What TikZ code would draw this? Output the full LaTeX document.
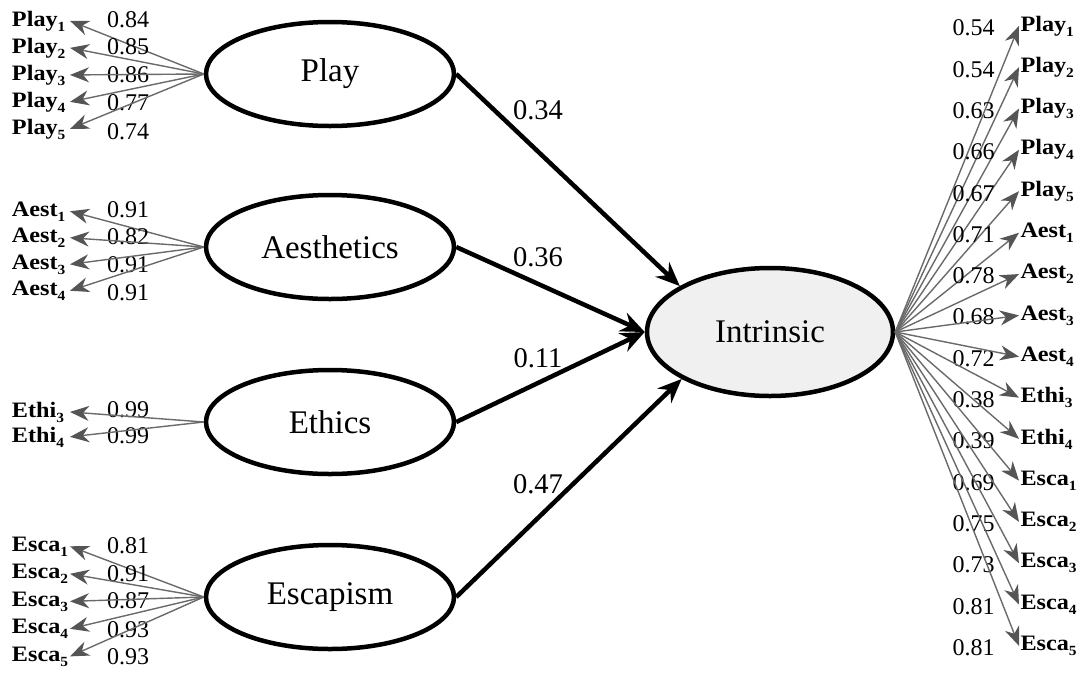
\documentclass[tikz,border=0pt]{standalone}
\usepackage{fontspec}
\setmainfont{Liberation Serif}
\newfontfamily\lblfont{Liberation Serif}[FakeStretch=1.1]
\usetikzlibrary{shapes, arrows.meta}
\definecolor{loadgray}{HTML}{6A6A6A}
\definecolor{tipgray}{HTML}{555555}
\definecolor{intrfill}{HTML}{F0F0F0}
\newcommand{\obs}[2]{{\lblfont\bfseries #1\raisebox{-5pt}{\fontsize{14}{15}\selectfont #2}}}
\tikzset{
  latent/.style={ellipse, draw, line width=4.5pt, minimum width=248pt,
    minimum height=104pt, inner sep=0pt, font=\fontsize{33}{36}\selectfont},
  path/.style={line width=4.5pt, -{Stealth[length=24pt, width=20pt, inset=8pt]}},
  load/.style={loadgray, line width=1.4pt,
    -{Stealth[length=19pt, width=15pt, inset=6pt, color=tipgray]}},
  lobs/.style={anchor=base west, text width=57pt, align=left, inner sep=0pt,
    outer sep=1pt, font=\fontsize{22}{24}\selectfont},
  robs/.style={anchor=base west, inner sep=0pt, outer sep=1.5pt,
    font=\fontsize{22}{24}\selectfont},
  num/.style={inner sep=0pt, font=\fontsize{24}{26}\selectfont},
  bnum/.style={inner sep=0pt, font=\fontsize{28.5}{30}\selectfont}
}

\begin{document}
\begin{tikzpicture}[x=1pt, y=-1pt]
  \useasboundingbox (0,0) rectangle (1080,673);

  % latent variables
  \node[latent] (play) at (330,74) {Play};
  \node[latent] (aest) at (330,247) {Aesthetics};
  \node[latent] (ethi) at (330,422) {Ethics};
  \node[latent] (esca) at (330,597) {Escapism};
  \node[latent, fill=intrfill, minimum width=246pt, minimum height=128pt] (intr) at (770,332) {Intrinsic};

  % paths
  \draw[path] (play.east) -- (intr.153);
  \draw[path] (aest.east) -- (intr.west);
  \draw[path] (ethi.east) -- (intr.west);
  \draw[path] (esca.east) -- (intr.208);
  \node[bnum] (w1) at (538,110) {0.34};
  \node[bnum] (w2) at (538,257) {0.36};
  \node[bnum] (w3) at (538,358) {0.11};
  \node[bnum] (w4) at (538,484) {0.47};

  % left indicators
  \foreach \i/\b/\n/\v in {1/26/20/0.84, 2/53/47/0.85, 3/80/75/0.86, 4/107/103/0.77, 5/134/132/0.74}{
    \node[lobs] (pl\i) at (11,\b) {\obs{Play}{\i}};
    \node[num] (npl\i) at (128,\n) {\v};
    \draw[load] (play.west) -- (pl\i.east);
  }
  \foreach \i/\b/\n/\v in {1/216/210/0.91, 2/242.5/236.5/0.82, 3/269/265/0.91, 4/295.5/293/0.91}{
    \node[lobs] (ae\i) at (11,\b) {\obs{Aest}{\i}};
    \node[num] (nae\i) at (128,\n) {\v};
    \draw[load] (aest.west) -- (ae\i.east);
  }
  \foreach \i/\b/\n/\v in {3/417/410/0.99, 4/442/436/0.99}{
    \node[lobs] (et\i) at (11,\b) {\obs{Ethi}{\i}};
    \node[num] (net\i) at (128,\n) {\v};
    \draw[load] (ethi.west) -- (et\i.east);
  }
  \foreach \i/\b/\n/\v in {1/551/545.5/0.81, 2/578.5/573.5/0.91, 3/606/601/0.87, 4/633.5/630/0.93, 5/661/657/0.93}{
    \node[lobs] (es\i) at (11,\b) {\obs{Esca}{\i}};
    \node[num] (nes\i) at (128,\n) {\v};
    \draw[load] (esca.west) -- (es\i.east);
  }

  % right indicators
  \foreach \i/\t/\s/\v in {0/Play/1/0.54, 1/Play/2/0.54, 2/Play/3/0.63, 3/Play/4/0.66,
      4/Play/5/0.67, 5/Aest/1/0.71, 6/Aest/2/0.78, 7/Aest/3/0.68, 8/Aest/4/0.72,
      9/Ethi/3/0.38, 10/Ethi/4/0.39, 11/Esca/1/0.69, 12/Esca/2/0.75, 13/Esca/3/0.73,
      14/Esca/4/0.81, 15/Esca/5/0.81}{
    \node[robs] (r\i) at (1019,{31+41.3*\i}) {\obs{\t}{\s}};
    \node[num] (nr\i) at (973.5,{28+41.3*\i}) {\v};
    \draw[load] (intr.east) -- (r\i.west);
  }
\end{tikzpicture}
\end{document}
